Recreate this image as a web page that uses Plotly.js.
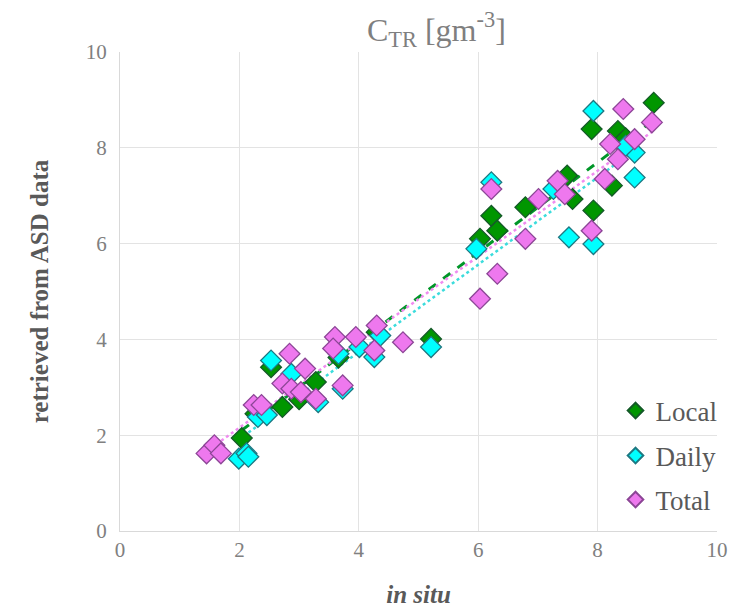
<!DOCTYPE html>
<html>
<head>
<meta charset="utf-8">
<script src="https://cdn.plot.ly/plotly-3.0.1.min.js"></script>
<style>html,body{margin:0;padding:0;background:#fff;}#chart{width:750px;height:616px;}</style>
</head>
<body>
<div id="chart"></div>
<script>
// Local
const localX = [2.04, 2.27, 2.53, 2.72, 3.00, 3.28, 3.66, 4.30, 5.21, 6.03, 6.22, 6.32, 6.79, 7.49, 7.58, 7.93, 7.90, 8.34, 8.24, 8.94, 8.47];
const localY = [1.94, 2.45, 3.42, 2.59, 2.75, 3.11, 3.62, 4.15, 4.01, 6.10, 6.58, 6.27, 6.76, 7.42, 6.93, 6.69, 8.39, 8.35, 7.21, 8.94, 8.20];
// Daily
const dailyX = [1.99, 2.12, 2.15, 2.31, 2.46, 2.53, 2.87, 3.32, 3.73, 3.66, 4.01, 4.26, 4.36, 5.21, 5.97, 6.22, 7.26, 7.52, 7.93, 7.93, 8.62, 8.62, 8.47];
const dailyY = [1.51, 1.62, 1.55, 2.38, 2.42, 3.56, 3.28, 2.69, 2.97, 3.70, 3.84, 3.63, 4.08, 3.84, 5.89, 7.28, 7.14, 6.13, 8.77, 5.99, 7.38, 7.90, 8.04];
// Total
const totalX = [1.45, 1.58, 1.69, 2.24, 2.37, 2.84, 2.72, 3.10, 2.87, 3.03, 3.28, 3.60, 3.57, 3.73, 3.95, 4.26, 4.30, 4.74, 6.03, 6.32, 6.22, 6.79, 7.01, 7.33, 7.45, 7.90, 8.12, 8.21, 8.34, 8.43, 8.62, 8.91];
const totalY = [1.62, 1.79, 1.62, 2.63, 2.63, 3.70, 3.08, 3.39, 2.97, 2.90, 2.76, 4.05, 3.81, 3.04, 4.05, 3.77, 4.29, 3.94, 4.85, 5.37, 7.14, 6.10, 6.93, 7.31, 7.03, 6.27, 7.35, 8.08, 7.76, 8.81, 8.18, 8.53];

const seriesNames = ['Local', 'Daily', 'Total'];
const xTicks = [0, 2, 4, 6, 8, 10];
const yTicks = [0, 2, 4, 6, 8, 10];

function fit(xs, ys) {
  const n = xs.length;
  let sx = 0, sy = 0, sxx = 0, sxy = 0;
  for (let i = 0; i < n; i++) { sx += xs[i]; sy += ys[i]; sxx += xs[i] * xs[i]; sxy += xs[i] * ys[i]; }
  const b = (n * sxy - sx * sy) / (n * sxx - sx * sx);
  const a = (sy - b * sx) / n;
  const x0 = Math.min(...xs), x1 = Math.max(...xs);
  return {x: [x0, x1], y: [a + b * x0, a + b * x1]};
}

const styles = [
  {fill: 'rgb(0,150,0)', line: 'rgb(20,90,40)', trend: 'rgb(0,150,40)', dash: 'dash', tw: 3},
  {fill: 'rgb(0,255,255)', line: 'rgb(30,120,130)', trend: 'rgb(60,220,220)', dash: 'dot', tw: 2.5},
  {fill: 'rgb(238,120,238)', line: 'rgb(140,70,150)', trend: 'rgb(240,140,240)', dash: 'dot', tw: 2.5}
];
const xs = [localX, dailyX, totalX];
const ys = [localY, dailyY, totalY];
const legendIds = ['legend', 'legend2', 'legend3'];

const traces = [];
for (let i = 0; i < 3; i++) {
  const f = fit(xs[i], ys[i]);
  traces.push({x: f.x, y: f.y, mode: 'lines', type: 'scatter', showlegend: false, hoverinfo: 'skip',
    line: {color: styles[i].trend, dash: styles[i].dash, width: styles[i].tw}});
}
for (let i = 0; i < 3; i++) {
  traces.push({x: xs[i], y: ys[i], mode: 'markers', type: 'scatter', name: seriesNames[i], legend: legendIds[i],
    marker: {symbol: 'diamond', size: 16, color: styles[i].fill, line: {color: styles[i].line, width: 1.3}}});
}

const fontFam = 'Liberation Serif';
const legendFont = {family: fontFam, size: 27, color: '#595959'};
function leg(yv) {
  return {x: 0.83, y: yv, xanchor: 'left', yanchor: 'middle', bgcolor: 'rgba(255,255,255,0)',
    font: legendFont, itemsizing: 'constant', itemwidth: 30};
}
const layout = {
  width: 750, height: 616,
  margin: {l: 120, r: 33, t: 52, b: 85},
  paper_bgcolor: '#fff', plot_bgcolor: '#fff',
  font: {family: fontFam, color: '#7f7f7f', size: 20},
  title: {text: 'C<sub>TR</sub> [gm<sup>-3</sup>]', xref: 'paper', x: 0.53, xanchor: 'center', y: 0.952, yanchor: 'middle',
    font: {family: fontFam, size: 32, color: '#7f7f7f'}},
  xaxis: {range: [0, 10], tickvals: xTicks, ticktext: xTicks.map(String), showgrid: true, gridcolor: '#e3e3e3', gridwidth: 1,
    zeroline: false, showline: true, linecolor: '#d9d9d9', mirror: false, ticks: '', fixedrange: true,
    tickfont: {family: fontFam, size: 21, color: '#808080'},
    title: {text: '<b><i>in situ</i></b>', standoff: 24, font: {family: fontFam, size: 25, color: '#595959'}}},
  yaxis: {range: [0, 10], tickvals: yTicks, ticktext: yTicks.map(String), showgrid: true, gridcolor: '#e3e3e3', gridwidth: 1,
    zeroline: false, showline: true, linecolor: '#d9d9d9', ticks: '', ticklabelstandoff: 8, fixedrange: true,
    automargin: true,
    tickfont: {family: fontFam, size: 21, color: '#808080'},
    title: {text: '<b>retrieved from ASD data</b>', standoff: 30, font: {family: fontFam, size: 25, color: '#595959'}}},
  showlegend: true,
  legend: leg(0.2505),
  legend2: leg(0.1566),
  legend3: leg(0.0647),
  hovermode: false
};

Plotly.newPlot('chart', traces, layout, {displayModeBar: false, staticPlot: true});
</script>
</body>
</html>
